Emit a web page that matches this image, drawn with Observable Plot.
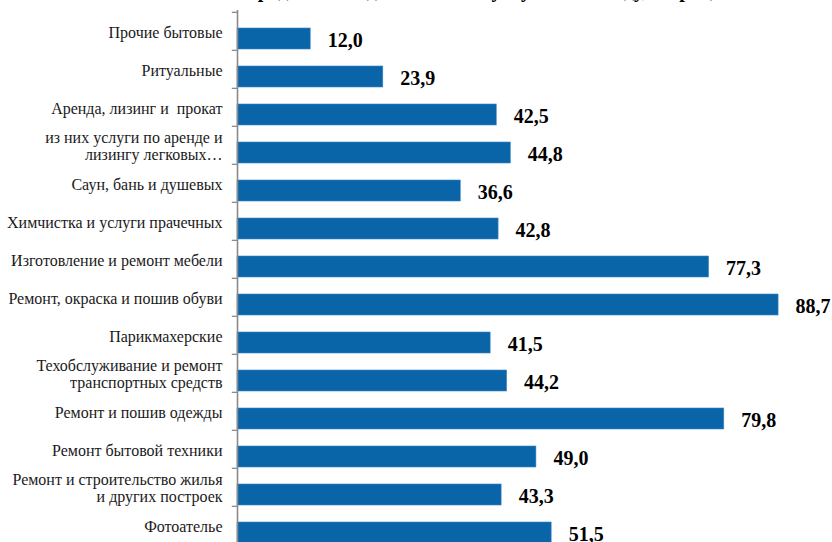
<!DOCTYPE html>
<html>
<head>
<meta charset="utf-8">
<script src="https://cdn.jsdelivr.net/npm/d3@7"></script>
<script src="https://cdn.jsdelivr.net/npm/@observablehq/plot@0.6"></script>
<style>
  html, body { margin: 0; padding: 0; background: white; overflow: hidden; }
  #wrap { position: relative; width: 832px; height: 542px; overflow: hidden; }
  #title { position: absolute; top: -21px; left: 14px; width: 832px; text-align: center;
           font: bold 20px "Liberation Serif", serif; color: #000; white-space: nowrap; }
  #chart { position: absolute; top: 0; left: 0; }
  #chart svg, #chart svg text { font-family: "Liberation Serif", serif !important; }
</style>
</head>
<body>
<div id="wrap">
  <div id="chart"></div>
  <div id="title">Рентабельность продаж по видам бытовых услуг в 2015 году, в процентах</div>
</div>
<script>
const categories = [
  "Прочие бытовые",
  "Ритуальные",
  "Аренда, лизинг и  прокат",
  "из них услуги по аренде и\nлизингу легковых…",
  "Саун, бань и душевых",
  "Химчистка и услуги прачечных",
  "Изготовление и ремонт мебели",
  "Ремонт, окраска и пошив обуви",
  "Парикмахерские",
  "Техобслуживание и ремонт\nтранспортных средств",
  "Ремонт и пошив одежды",
  "Ремонт бытовой техники",
  "Ремонт и строительство жилья\nи других построек",
  "Фотоателье"
];
const values = [12.0, 23.9, 42.5, 44.8, 36.6, 42.8, 77.3, 88.7, 41.5, 44.2, 79.8, 49.0, 43.3, 51.5];

const data = categories.map((c, i) => ({category: c, value: values[i]}));
const fmt = v => v.toFixed(1).replace(".", ",");
const step = (546 - 10) / categories.length;
const serif = "Liberation Serif";

const chart = Plot.plot({
  width: 832,
  height: 560,
  marginTop: 10,
  marginBottom: 14,
  marginLeft: 237,
  marginRight: 46,
  style: {fontFamily: serif, background: "white", color: "#1a1a1a", overflow: "visible"},
  x: {domain: [0, 90], range: [237, 786], axis: null},
  y: {domain: categories, range: [10, 546], padding: 0, axis: null, label: null},
  marks: [
    Plot.barX(data, {x: "value", y: "category", fill: "#0A64A8", stroke: "#3b86c4", strokeWidth: 0.6, insetTop: 16, insetBottom: 1}),
    Plot.axisY({tickSize: 0, tickPadding: 15, fontSize: 16, lineHeight: 1.05, fill: "#1a1a1a", label: null, dy: 1}),
    Plot.ruleY(categories, {y: d => d, x1: -0.85, x2: 0, dy: -step / 2, stroke: "#8a8a8a", strokeWidth: 1.3}),
    Plot.ruleX([0], {stroke: "#8a8a8a", strokeWidth: 1.6}),
    Plot.text(data, {x: "value", y: "category", text: d => fmt(d.value), dx: 17, dy: 9,
      textAnchor: "start", fontWeight: "bold", fontSize: 20, fill: "#000"})
  ]
});
document.getElementById("chart").appendChild(chart);
</script>
</body>
</html>
